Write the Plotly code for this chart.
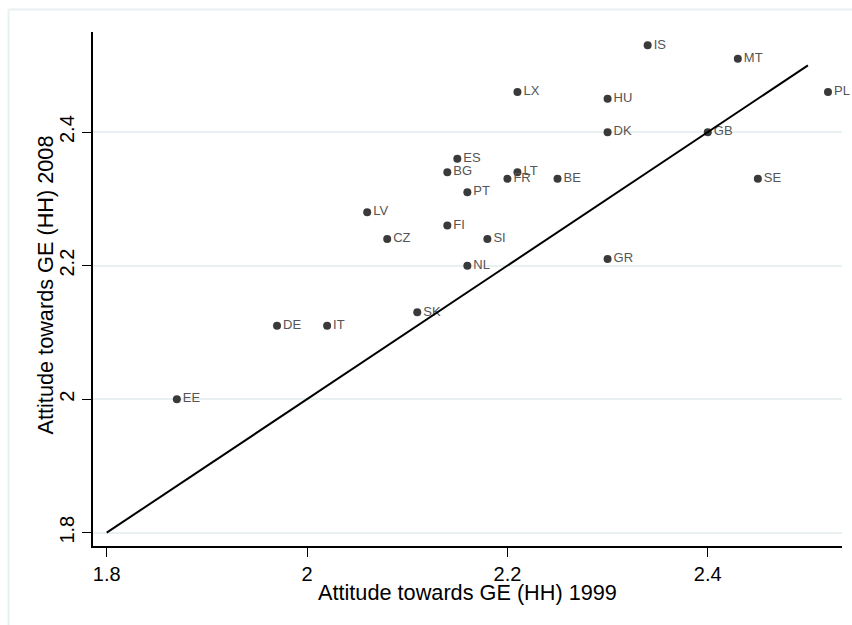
import plotly.graph_objects as go

countries = ["IS", "MT", "PL", "LX", "HU", "DK", "GB", "ES", "BG", "LT", "FR", "BE",
             "SE", "PT", "LV", "FI", "CZ", "SI", "NL", "GR", "SK", "DE", "IT", "EE"]
att_1999 = [2.34, 2.43, 2.52, 2.21, 2.30, 2.30, 2.40, 2.15, 2.14, 2.21, 2.20, 2.25,
            2.45, 2.16, 2.06, 2.14, 2.08, 2.18, 2.16, 2.30, 2.11, 1.97, 2.02, 1.87]
att_2008 = [2.53, 2.51, 2.46, 2.46, 2.45, 2.40, 2.40, 2.36, 2.34, 2.34, 2.33, 2.33,
            2.33, 2.31, 2.28, 2.26, 2.24, 2.24, 2.20, 2.21, 2.13, 2.11, 2.11, 2.00]
line_x = [1.8, 2.5]
line_y = [1.8, 2.5]
tick_vals = [1.8, 2.0, 2.2, 2.4]
tick_text = ["1.8", "2", "2.2", "2.4"]
x_title = "Attitude towards GE (HH) 1999"
y_title = "Attitude towards GE (HH) 2008"

FONT = "Liberation Sans, Arial, sans-serif"
GRID = "#e9f0f2"
TITLE_SIZE = 21.7

fig = go.Figure()
fig.add_trace(go.Scatter(
    x=att_1999, y=att_2008, mode="markers+text", text=countries,
    textposition="middle right",
    textfont=dict(family=FONT, size=13, color="#555555"),
    marker=dict(size=8, color="#3a3a3a"),
    showlegend=False, cliponaxis=False,
))
fig.add_trace(go.Scatter(
    x=line_x, y=line_y, mode="lines",
    line=dict(color="black", width=2),
    showlegend=False, cliponaxis=False,
))

fig.update_layout(
    width=852, height=625,
    margin=dict(l=93, r=10, t=32, b=79),
    paper_bgcolor="white", plot_bgcolor="white",
    font=dict(family=FONT, size=20, color="black"),
    xaxis=dict(
        range=[1.7863, 2.534], tickvals=tick_vals, ticktext=tick_text,
        showgrid=False, zeroline=False,
        showline=True, linecolor="black", linewidth=1.5,
        ticks="outside", ticklen=9, tickcolor="black", tickwidth=1,
        tickfont=dict(family=FONT, size=20, color="black"),
    ),
    yaxis=dict(
        range=[1.780, 2.550], tickvals=tick_vals, ticktext=tick_text,
        showgrid=True, gridcolor=GRID, gridwidth=1.5, zeroline=False,
        showline=True, linecolor="black", linewidth=1.5,
        ticks="outside", ticklen=9, tickcolor="black", tickwidth=1,
        tickangle=-90,
        tickfont=dict(family=FONT, size=20, color="black"),
    ),
)

fig.add_annotation(text=x_title, xref="paper", yref="paper", x=0.5, y=-0.0895,
                   xanchor="center", yanchor="middle", showarrow=False,
                   font=dict(family=FONT, size=TITLE_SIZE, color="black"))
fig.add_annotation(text=y_title, xref="paper", yref="paper", x=-0.0641, y=0.5088,
                   xanchor="center", yanchor="middle", showarrow=False, textangle=-90,
                   font=dict(family=FONT, size=TITLE_SIZE, color="black"))

# outer frame (top and left edges visible)
fig.add_shape(type="line", xref="paper", yref="paper",
              x0=-0.1128, x1=1.05, y0=1.0438, y1=1.0438,
              line=dict(color=GRID, width=2), layer="below")
fig.add_shape(type="line", xref="paper", yref="paper",
              x0=-0.1128, x1=-0.1128, y0=1.0438, y1=-0.2,
              line=dict(color=GRID, width=2), layer="below")

fig.write_html("out.html")
